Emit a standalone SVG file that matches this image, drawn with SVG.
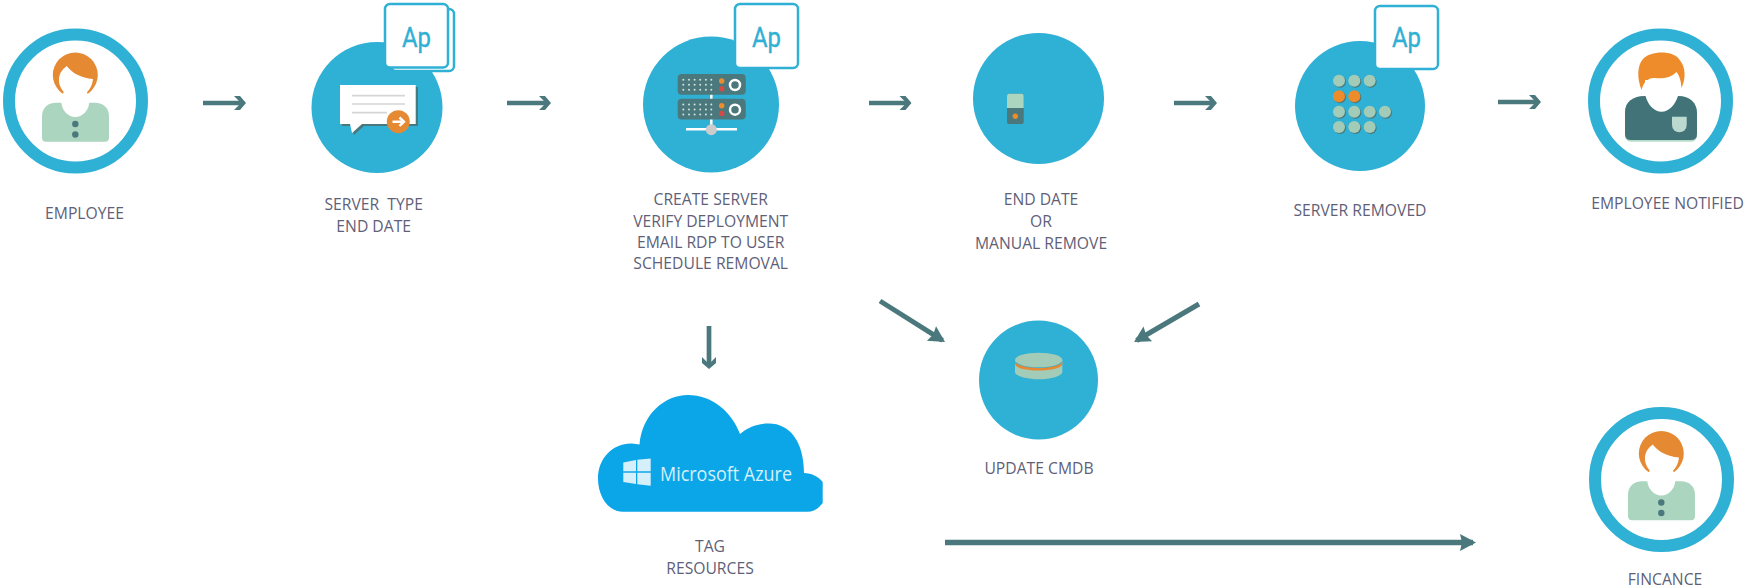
<svg xmlns="http://www.w3.org/2000/svg" width="1745" height="588" viewBox="0 0 1745 588">
<style>
.lbl{font-family:"Open Sans","Liberation Sans",sans-serif;font-size:15.7px;fill:#5f5f78;text-anchor:middle;white-space:pre}
.blue{fill:#2fb0d5}
.ring{fill:#fff;stroke:#2fb0d5;stroke-width:12}
.card{fill:#fff;stroke:#2fb0d5;stroke-width:2.5}
.ap{font-family:Roboto,"Liberation Sans",sans-serif;font-size:28px;fill:#2fb0d5;stroke:#2fb0d5;stroke-width:.4;text-anchor:middle}
.shaft{fill:none;stroke:#4a787c}
.dark{fill:#4a787c}
.grn{fill:#a3ccb8}
.org{fill:#ee8c2c}
.dot{fill:#cfe3dc}
</style>
<defs>
<marker id="chev" markerUnits="userSpaceOnUse" markerWidth="16" markerHeight="18" refX="11" refY="8" orient="auto" overflow="visible">
<path d="M2 1 L8 1 L14 8 L8 15 L2 15 L7 10 L7 6 Z" fill="#4a787c"/>
</marker>
<marker id="tri" markerUnits="userSpaceOnUse" markerWidth="20" markerHeight="20" refX="13" refY="8.5" orient="auto" overflow="visible">
<path d="M0 0 L16 8.5 L0 17 L2 8.5 Z" fill="#4a787c"/>
</marker>
<g id="woman">
<circle cx="75.3" cy="75" r="22.5" fill="#e58a33"/>
<path d="M59 78 C60 72 63 69 66.7 66 C72 73 81 78 93 79 C92 90 84 97 75.3 97 C66 97 58 88 59 78 Z" fill="#fff"/>
<path d="M42 116 C42 107 49 102.7 56 102.7 L95 102.7 C103 102.7 109 108 109 116 L109 137.5 Q109 141.7 105 141.7 L46 141.7 Q42 141.7 42 137.5 Z" fill="#acd5c0"/>
<ellipse cx="75.3" cy="101" rx="14" ry="16" fill="#fff"/>
<circle cx="75.3" cy="124" r="3.2" class="dark"/>
<circle cx="75.3" cy="134.5" r="3.2" class="dark"/>
</g>
<g id="rack">
<rect x="677.7" y="74" width="68" height="20.7" rx="4" class="dark"/>
<g class="dot">
<circle cx="683.3" cy="79.7" r="1"/><circle cx="689" cy="79.7" r="1"/><circle cx="694.6" cy="79.7" r="1"/><circle cx="700.2" cy="79.7" r="1"/><circle cx="705.9" cy="79.7" r="1"/><circle cx="711.3" cy="79.7" r="1"/>
<circle cx="683.3" cy="84.7" r="1"/><circle cx="689" cy="84.7" r="1"/><circle cx="694.6" cy="84.7" r="1"/><circle cx="700.2" cy="84.7" r="1"/><circle cx="705.9" cy="84.7" r="1"/><circle cx="711.3" cy="84.7" r="1"/>
<circle cx="683.3" cy="89.7" r="1"/><circle cx="689" cy="89.7" r="1"/><circle cx="694.6" cy="89.7" r="1"/><circle cx="700.2" cy="89.7" r="1"/><circle cx="705.9" cy="89.7" r="1"/><circle cx="711.3" cy="89.7" r="1"/>
</g>
<circle cx="721.7" cy="81" r="2.7" class="org"/>
<circle cx="721.7" cy="88.7" r="2.7" fill="#d44a45"/>
<circle cx="735" cy="85" r="5" fill="#4a787c" stroke="#fff" stroke-width="2.5"/>
</g>
</defs>

<g id="connectors">
<path class="shaft" stroke-width="4.7" d="M203 103H243" marker-end="url(#chev)"/>
<path class="shaft" stroke-width="4.7" d="M507 103H548" marker-end="url(#chev)"/>
<path class="shaft" stroke-width="4.7" d="M869 103H908.5" marker-end="url(#chev)"/>
<path class="shaft" stroke-width="4.7" d="M1174 103H1214" marker-end="url(#chev)"/>
<path class="shaft" stroke-width="4.7" d="M1498 102H1538" marker-end="url(#chev)"/>
<path class="shaft" stroke-width="4.7" d="M709 326V366" marker-end="url(#chev)"/>
<path class="shaft" stroke-width="5" d="M880 301L942.5 340.4" marker-end="url(#tri)"/>
<path class="shaft" stroke-width="5" d="M1199 304L1136.6 340.5" marker-end="url(#tri)"/>
<path class="shaft" stroke-width="5.5" d="M945 542.5H1473" marker-end="url(#tri)"/>
</g>

<g id="employee">
<circle class="ring" cx="75.5" cy="101" r="66.5"/>
<use href="#woman"/>
<text class="lbl" x="84.5" y="218.5">EMPLOYEE</text>
</g>

<g id="server-type">
<circle class="blue" cx="377" cy="107.5" r="65.5"/>
<rect class="card" x="391" y="9" width="63" height="62" rx="5"/>
<rect class="card" x="385" y="4" width="63" height="63.5" rx="5"/>
<text class="ap" x="416.5" y="46.7" textLength="29" lengthAdjust="spacingAndGlyphs">Ap</text>
<path d="M342 87H418V126H364L354 135L352 126H342Z" class="dark"/>
<path d="M340 85H415.7V124H362L352 133L350 124H340Z" fill="#fff"/>
<path d="M352 95.7H405M352 104H405M352 112.7H387" stroke="#d5d5d5" stroke-width="1.7" fill="none"/>
<circle cx="398.3" cy="121.7" r="11.5" fill="#e58a33"/>
<path d="M392.5 121.7H403M399.5 117.5L404 121.7L399.5 126" stroke="#fff" stroke-width="2.4" fill="none"/>
<text class="lbl" x="373.7" y="210">SERVER  TYPE</text>
<text class="lbl" x="373.7" y="231.7">END DATE</text>
</g>

<g id="create-server">
<circle class="blue" cx="711" cy="104.5" r="68"/>
<rect class="card" x="735" y="4" width="63" height="64" rx="5"/>
<text class="ap" x="766.5" y="46.7" textLength="29" lengthAdjust="spacingAndGlyphs">Ap</text>
<path d="M711.3 94V130M686 129.3H737" stroke="#fff" stroke-width="2.5" fill="none"/>
<use href="#rack"/>
<use href="#rack" y="24.7"/>
<circle cx="711.3" cy="129.7" r="5.5" fill="#ccc"/>
<text class="lbl" x="710.7" y="205">CREATE SERVER</text>
<text class="lbl" x="710.7" y="226.7">VERIFY DEPLOYMENT</text>
<text class="lbl" x="710.7" y="248.3">EMAIL RDP TO USER</text>
<text class="lbl" x="710.7" y="269">SCHEDULE REMOVAL</text>
</g>

<g id="end-date">
<circle class="blue" cx="1038.5" cy="98.5" r="65.5"/>
<rect x="1007" y="93.7" width="16.7" height="30.3" rx="2" class="dark"/>
<path d="M1007 108V95.7a2 2 0 0 1 2-2H1021.7a2 2 0 0 1 2 2V108Z" fill="#acd5c0"/>
<circle cx="1015.3" cy="116.3" r="2.7" class="org"/>
<text class="lbl" x="1041" y="205">END DATE</text>
<text class="lbl" x="1041" y="227">OR</text>
<text class="lbl" x="1041" y="248.5">MANUAL REMOVE</text>
</g>

<g id="server-removed">
<circle class="blue" cx="1360" cy="106" r="65"/>
<rect class="card" x="1375" y="6" width="63" height="63" rx="5"/>
<text class="ap" x="1406.5" y="46.7" textLength="29" lengthAdjust="spacingAndGlyphs">Ap</text>
<g class="dark">
<circle cx="1340" cy="81.7" r="6"/><circle cx="1355.3" cy="81.7" r="6"/><circle cx="1370.7" cy="81.7" r="6"/>
<circle cx="1340" cy="97.3" r="6"/><circle cx="1355.3" cy="97.3" r="6"/>
<circle cx="1340" cy="112.7" r="6"/><circle cx="1355.3" cy="112.7" r="6"/><circle cx="1370.7" cy="112.7" r="6"/><circle cx="1386" cy="112.7" r="6"/>
<circle cx="1340" cy="128" r="6"/><circle cx="1355.3" cy="128" r="6"/><circle cx="1370.7" cy="128" r="6"/>
</g>
<g class="grn">
<circle cx="1339" cy="80.7" r="6"/><circle cx="1354.3" cy="80.7" r="6"/><circle cx="1369.7" cy="80.7" r="6"/>
<circle cx="1339" cy="111.7" r="6"/><circle cx="1354.3" cy="111.7" r="6"/><circle cx="1369.7" cy="111.7" r="6"/><circle cx="1385" cy="111.7" r="6"/>
<circle cx="1339" cy="127" r="6"/><circle cx="1354.3" cy="127" r="6"/><circle cx="1369.7" cy="127" r="6"/>
</g>
<g class="org"><circle cx="1339" cy="96.3" r="6"/><circle cx="1354.3" cy="96.3" r="6"/></g>
<text class="lbl" x="1360" y="216">SERVER REMOVED</text>
</g>

<g id="employee-notified">
<circle class="ring" cx="1660.5" cy="101" r="66.5"/>
<path d="M1641.5 90C1637 78 1637 66 1643 59C1650 51 1672 50 1679 59C1686 67 1686 78 1681.5 88C1681 80 1679 75 1676.5 72C1671 78 1662 79 1655 78C1650 77.5 1644 80 1641.5 90Z" class="org"/>
<path d="M1625 112C1625 102 1633 96 1645 96H1678C1690 96 1697 103 1697 113V135Q1697 141.7 1691 141.7H1631Q1625 141.7 1625 135Z" fill="#b5dcc8"/>
<path d="M1625 112C1625 102 1633 96 1645 96H1678C1690 96 1697 103 1697 113V134Q1697 140 1691 140H1631Q1625 140 1625 134Z" fill="#427378"/>
<path d="M1645.5 96C1648 105 1654 111.7 1661.5 111.7C1669 111.7 1675 105 1678 96L1678 80L1645 80Z" fill="#fff"/>
<path d="M1672 116.7H1686.7V125A7.3 7.3 0 0 1 1672 125Z" fill="#bcd9cf"/>
<text class="lbl" x="1667.5" y="209.3">EMPLOYEE NOTIFIED</text>
</g>

<g id="update-cmdb">
<circle class="blue" cx="1038.5" cy="380" r="59.5"/>
<path d="M1015 360V372C1015 376 1026 379.3 1038.7 379.3C1051 379.3 1062.3 376 1062.3 372V360Z" class="grn"/>
<path d="M1015 364C1015 368 1026 370.5 1038.7 370.5C1051 370.5 1062.3 368 1062.3 364V362H1015Z" fill="#e58a33"/>
<path d="M1015 361C1015 365 1026 368 1038.7 368C1051 368 1062.3 365 1062.3 361Z" class="blue"/>
<ellipse cx="1038.7" cy="360" rx="23.7" ry="7.3" class="grn"/>
<text class="lbl" x="1039" y="474">UPDATE CMDB</text>
</g>

<g id="azure">
<path d="M623 511.7C607 511.7 598 495 598 478.5C598 458 613 443 632 443.5L639.5 444.5C642 415 664 395 688 395C712 395 732 412 740 434C748 427 758 423.5 769 423.5C790 423.5 804 442 804 473C812 473 819 477 822.7 482V503C819 508 814 511.7 808 511.7Z" fill="#0ba6e8"/>
<path d="M623.3 462.5L636 460V471.3H623.3ZM637.3 459.7L650.7 458.5V471.3H637.3ZM623.3 472.7H636V484L623.3 482ZM637.3 472.7H650.7V485.7L637.3 484.3Z" fill="#d5f0fb"/>
<text x="660" y="480.7" font-family="'Open Sans',sans-serif" font-size="20" fill="#d5f0fb" textLength="132" lengthAdjust="spacingAndGlyphs">Microsoft Azure</text>
<text class="lbl" x="710" y="552.3">TAG</text>
<text class="lbl" x="710" y="574.3">RESOURCES</text>
</g>

<g id="finance">
<circle class="ring" cx="1661.5" cy="479.5" r="66.5"/>
<use href="#woman" x="1586" y="378.5"/>
<text class="lbl" x="1665" y="585">FINCANCE</text>
</g>
</svg>
